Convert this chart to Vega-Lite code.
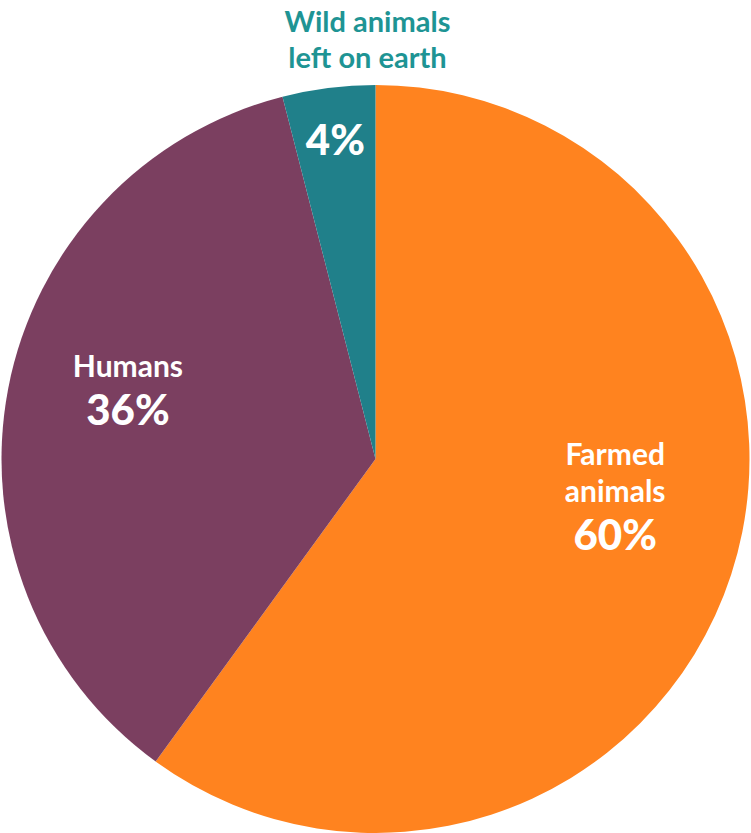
{
  "$schema": "https://vega.github.io/schema/vega-lite/v6.json",
  "width": 751,
  "height": 748,
  "autosize": "none",
  "padding": {"left": 0, "right": 0, "top": 85, "bottom": 0},
  "background": "white",
  "view": {"stroke": null},
  "title": {
    "text": ["Wild animals", "left on earth"],
    "font": "Lato",
    "fontSize": 29,
    "fontWeight": "bold",
    "color": "#1E9494",
    "anchor": "middle",
    "dx": -8,
    "offset": 11,
    "lineHeight": 36
  },
  "data": {
    "values": [
      {"group": "Farmed animals", "share": 60, "line1": "Farmed", "line2": "animals", "pct": "60%"},
      {"group": "Humans", "share": 36, "line1": "", "line2": "Humans", "pct": "36%"},
      {"group": "Wild animals left on earth", "share": 4, "line1": "", "line2": "", "pct": "4%"}
    ]
  },
  "encoding": {
    "theta": {"field": "share", "type": "quantitative", "stack": true},
    "detail": {"field": "group"},
    "order": {"field": "group", "sort": "ascending"}
  },
  "layer": [
    {
      "mark": {"type": "arc", "outerRadius": 374},
      "encoding": {
        "color": {
          "field": "group",
          "type": "nominal",
          "scale": {
            "domain": ["Farmed animals", "Humans", "Wild animals left on earth"],
            "range": ["#FF831F", "#7B3F60", "#20808A"]
          },
          "legend": null
        }
      }
    },
    {
      "mark": {"type": "text", "radius": 252, "dy": -72, "font": "Lato", "fontSize": 30, "fontWeight": "bold", "color": "white", "baseline": "alphabetic"},
      "encoding": {"text": {"field": "line1"}}
    },
    {
      "mark": {"type": "text", "radius": 252, "dy": -35, "font": "Lato", "fontSize": 30, "fontWeight": "bold", "color": "white", "baseline": "alphabetic"},
      "encoding": {"text": {"field": "line2"}}
    },
    {
      "mark": {"type": "text", "radius": 252, "font": "Lato", "fontSize": 42, "fontWeight": "900", "color": "white", "baseline": "middle"},
      "encoding": {"text": {"condition": {"test": "datum.group !== 'Wild animals left on earth'", "field": "pct"}, "value": ""}}
    },
    {
      "mark": {"type": "text", "radius": 320, "font": "Lato", "fontSize": 42, "fontWeight": "900", "color": "white", "baseline": "middle"},
      "encoding": {"text": {"condition": {"test": "datum.group === 'Wild animals left on earth'", "field": "pct"}, "value": ""}}
    }
  ]
}
